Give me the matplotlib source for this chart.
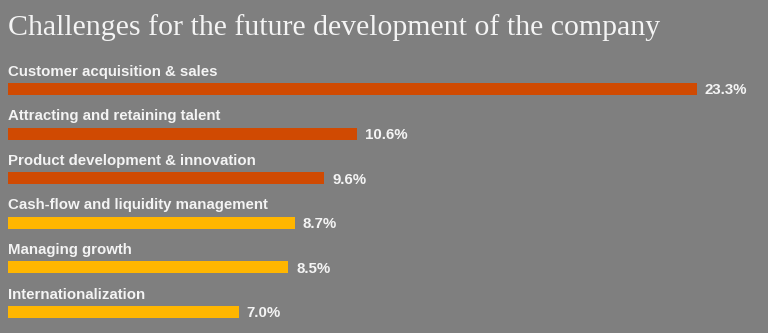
import matplotlib.pyplot as plt
from matplotlib.transforms import offset_copy

categories = ['Customer acquisition & sales', 'Attracting and retaining talent',
              'Product development & innovation', 'Cash-flow and liquidity management',
              'Managing growth', 'Internationalization']
values = [23.3, 10.6, 9.6, 8.7, 8.5, 7.0]
colors = ['#d04a02', '#d04a02', '#d04a02', '#ffb600', '#ffb600', '#ffb600']

bg = '#7f7f7f'
txt = '#f4f4f4'

fig = plt.figure(figsize=(7.68, 3.33), dpi=100, facecolor=bg)
ax = fig.add_axes([8 / 768, 0, 689 / 768, 1])
ax.set_facecolor(bg)
ax.axis('off')

xmax = 20.9  # longest bar is cut at the axes edge, as in the original
ax.set_xlim(0, xmax)
ax.set_ylim(5.47, -1.996)

h = 0.27
ys = range(len(values))
ax.barh(ys, values, height=h, color=colors, clip_on=True)

for y, name, v in zip(ys, categories, values):
    ax.text(0, y - h / 2 - 0.1, name, ha='left', va='bottom', color=txt,
            fontsize=10.8, fontweight='bold', family='Liberation Sans')
    tr = offset_copy(ax.transData, fig=fig, x=8, y=0, units='dots')
    ax.text(min(v, xmax), y + 0.03, f'{v:.1f}%', ha='left', va='center', color=txt,
            fontsize=10.8, fontweight='bold', family='Liberation Sans',
            transform=tr, clip_on=False)

fig.text(8 / 768, 1 - 14 / 333, 'Challenges for the future development of the company',
         ha='left', va='top', color=txt, fontsize=21.5, family='Liberation Serif')

fig.savefig('out.png', dpi=100, facecolor=bg)
